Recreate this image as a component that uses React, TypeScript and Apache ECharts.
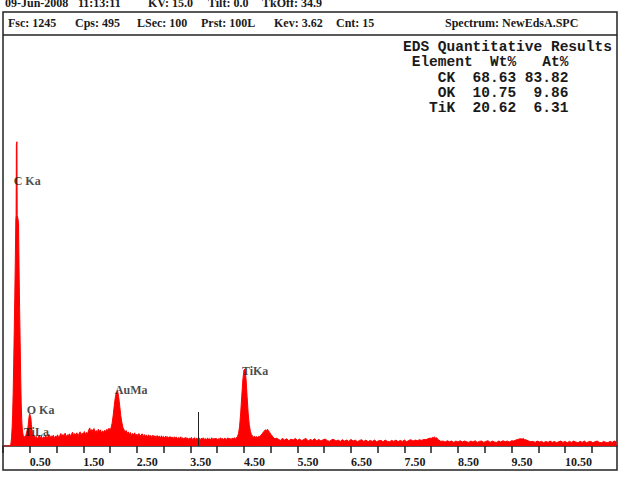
import React, { useEffect, useRef } from "react";
import * as echarts from "echarts";

// ---------- header & table texts ----------
const headerRow1 = ["09-Jun-2008", "11:13:11", "KV: 15.0", "Tilt: 0.0", "TkOff: 34.9"];
const headerRow2 = ["Fsc: 1245", "Cps: 495", "LSec: 100", "Prst: 100L", "Kev: 3.62", "Cnt: 15", "Spectrum: NewEdsA.SPC"];
const resultsTitle = "EDS Quantitative Results";
const resultsHeader = " Element  Wt%   At%";
const resultElements = ["CK", "OK", "TiK"];
const resultWt = ["68.63", "10.75", "20.62"];
const resultAt = ["83.82", "9.86", "6.31"];

// ---------- axis ----------
const xMinKeV = 0;
const xMaxKeV = 11.47;
const tickStepKeV = 0.5;
const fullScaleCounts = 1245;
const cursorKeV = 3.65;
const cursorCounts = 103;

// ---------- peak labels ----------
const peakNames = ["C Ka", "O Ka", "TiLa", "AuMa", "TiKa"];
const peakLabelKeV = [0.2, 0.444, 0.388, 2.089, 4.463];
const peakLabelCounts = [806, 109, 43, 170, 228];

// ---------- spectrum [keV, counts] ----------
const spectrumCO: [number, number][] = [
  [0.0, 0], [0.14, 0], [0.15, 10], [0.16, 25], [0.17, 55], [0.18, 95], [0.19, 160], [0.2, 250],
  [0.21, 350], [0.22, 450], [0.23, 560], [0.24, 690], [0.245, 700], [0.25, 915], [0.26, 924], [0.265, 700],
  [0.27, 700], [0.28, 690], [0.29, 675], [0.3, 540], [0.31, 420], [0.32, 320], [0.33, 215], [0.34, 130],
  [0.35, 80], [0.36, 52], [0.37, 40], [0.38, 30], [0.39, 27], [0.4, 22], [0.41, 30], [0.42, 25],
  [0.43, 34], [0.44, 40], [0.45, 46], [0.46, 50], [0.47, 62], [0.48, 78], [0.49, 92], [0.5, 97],
  [0.51, 96], [0.52, 86], [0.53, 66], [0.54, 48], [0.55, 36], [0.56, 28], [0.57, 33], [0.58, 25],
  [0.59, 31], [0.6, 23],
];
const spectrumLowBg: [number, number][] = [
  [0.62, 29], [0.64, 21], [0.66, 27], [0.68, 33], [0.7, 24], [0.72, 30], [0.74, 20], [0.76, 28],
  [0.78, 25], [0.8, 32], [0.82, 22], [0.84, 29], [0.86, 35], [0.88, 24], [0.9, 31], [0.92, 26],
  [0.94, 33], [0.96, 23], [0.98, 30], [1.0, 27], [1.02, 34], [1.04, 25], [1.06, 31], [1.08, 38],
  [1.1, 28], [1.12, 35], [1.14, 30], [1.16, 39], [1.18, 27], [1.2, 34], [1.22, 31], [1.24, 37],
  [1.26, 29], [1.28, 36], [1.3, 42], [1.32, 31], [1.34, 38], [1.36, 33], [1.38, 40], [1.4, 30],
  [1.42, 37], [1.44, 43], [1.46, 34], [1.48, 39], [1.5, 36], [1.52, 44], [1.54, 35], [1.56, 41],
  [1.58, 37], [1.6, 48], [1.62, 55], [1.64, 42], [1.66, 50], [1.68, 45], [1.7, 53], [1.72, 40],
  [1.74, 47], [1.76, 38], [1.78, 51], [1.8, 44], [1.82, 49], [1.84, 39], [1.86, 46], [1.88, 41],
  [1.9, 48], [1.92, 43], [1.94, 51], [1.96, 46], [1.98, 54],
];
const spectrumAuMa: [number, number][] = [
  [2.0, 48], [2.02, 56], [2.04, 70], [2.06, 95], [2.08, 125], [2.1, 150], [2.12, 162], [2.14, 168],
  [2.16, 150], [2.18, 122], [2.2, 92], [2.22, 72], [2.24, 56], [2.26, 50], [2.28, 42], [2.3, 47],
  [2.32, 38], [2.34, 43],
];
const spectrumMidBg: [number, number][] = [
  [2.36, 35], [2.38, 41], [2.4, 32], [2.42, 38], [2.44, 34], [2.46, 40], [2.48, 30], [2.5, 36],
  [2.52, 31], [2.54, 38], [2.56, 29], [2.58, 34], [2.6, 37], [2.62, 28], [2.64, 35], [2.66, 30],
  [2.68, 33], [2.7, 27], [2.72, 34], [2.74, 29], [2.76, 32], [2.78, 26], [2.8, 33], [2.82, 28],
  [2.84, 31], [2.86, 25], [2.88, 32], [2.9, 27], [2.92, 30], [2.94, 24], [2.96, 31], [2.98, 26],
  [3.0, 29], [3.02, 24], [3.04, 30], [3.06, 26], [3.08, 28], [3.1, 23], [3.12, 29], [3.14, 25],
  [3.16, 27], [3.18, 22], [3.2, 28], [3.22, 24], [3.24, 27], [3.26, 21], [3.28, 26], [3.3, 23],
  [3.32, 28], [3.34, 22], [3.36, 25], [3.38, 20], [3.4, 26], [3.42, 23], [3.44, 25], [3.46, 20],
  [3.48, 24], [3.5, 22], [3.52, 26], [3.54, 20], [3.56, 23], [3.58, 25], [3.6, 19], [3.62, 24],
  [3.64, 21], [3.66, 25], [3.68, 19], [3.7, 23], [3.72, 21], [3.74, 25], [3.76, 20], [3.78, 23],
  [3.8, 19], [3.82, 24], [3.84, 21], [3.86, 22], [3.88, 19], [3.9, 25], [3.92, 20], [3.94, 23],
  [3.96, 21], [3.98, 24], [4.0, 19], [4.02, 22], [4.04, 20], [4.06, 25], [4.08, 21], [4.1, 23],
  [4.12, 19], [4.14, 24], [4.16, 22], [4.18, 20], [4.2, 25], [4.22, 21], [4.24, 23], [4.26, 20],
  [4.28, 24], [4.3, 22], [4.32, 25], [4.34, 22],
];
const spectrumTi: [number, number][] = [
  [4.36, 25], [4.38, 29], [4.4, 38], [4.42, 60], [4.44, 100], [4.46, 150], [4.48, 200], [4.5, 230],
  [4.52, 234], [4.54, 205], [4.56, 150], [4.58, 100], [4.6, 65], [4.62, 45], [4.64, 35], [4.66, 31],
  [4.68, 26], [4.7, 30], [4.72, 25], [4.74, 29], [4.76, 24], [4.78, 30], [4.8, 27], [4.82, 34],
  [4.84, 36], [4.86, 42], [4.88, 45], [4.9, 49], [4.92, 47], [4.94, 51], [4.96, 46], [4.98, 42],
  [5.0, 36], [5.02, 33], [5.04, 27], [5.06, 25], [5.08, 21], [5.1, 24],
];
const spectrumHighBg: [number, number][] = [
  [5.14, 21], [5.18, 17], [5.22, 23], [5.26, 18], [5.3, 22], [5.34, 16], [5.38, 21], [5.42, 18],
  [5.46, 23], [5.5, 17], [5.54, 21], [5.58, 16], [5.62, 20], [5.66, 23], [5.7, 15], [5.74, 20],
  [5.78, 17], [5.82, 22], [5.86, 16], [5.9, 20], [5.94, 15], [5.98, 19], [6.02, 21], [6.06, 16],
  [6.1, 14], [6.14, 19], [6.18, 20], [6.22, 15], [6.26, 18], [6.3, 14], [6.34, 19], [6.38, 15],
  [6.42, 18], [6.46, 14], [6.5, 20], [6.54, 15], [6.58, 18], [6.62, 13], [6.66, 17], [6.7, 19],
  [6.74, 14], [6.78, 18], [6.82, 13], [6.86, 17], [6.9, 14], [6.94, 18], [6.98, 13], [7.02, 16],
  [7.06, 17], [7.1, 13], [7.14, 18], [7.18, 14], [7.22, 13], [7.26, 17], [7.3, 14], [7.34, 18],
  [7.38, 13], [7.42, 17], [7.46, 14], [7.5, 18], [7.54, 13], [7.58, 17], [7.62, 19], [7.66, 15],
  [7.7, 18], [7.74, 16], [7.78, 19], [7.82, 17], [7.86, 20],
  [7.9, 19], [7.94, 22], [7.98, 24], [8.0, 23], [8.02, 26], [8.04, 25], [8.06, 27], [8.08, 24],
  [8.1, 25], [8.12, 21], [8.14, 18], [8.18, 14],
  [8.22, 15], [8.26, 12], [8.3, 16], [8.34, 13], [8.38, 15], [8.42, 11], [8.46, 15], [8.5, 12],
  [8.54, 16], [8.58, 12], [8.62, 15], [8.66, 13], [8.7, 11], [8.74, 15], [8.78, 12], [8.82, 16],
  [8.86, 11], [8.9, 14], [8.94, 15], [8.98, 11], [9.02, 14], [9.06, 16], [9.1, 11], [9.14, 15],
  [9.18, 12], [9.22, 11], [9.26, 15], [9.3, 12], [9.34, 16], [9.38, 13], [9.42, 15], [9.46, 12],
  [9.5, 16], [9.54, 15], [9.58, 18],
  [9.62, 20], [9.66, 22], [9.7, 21], [9.72, 23], [9.74, 20], [9.78, 18], [9.82, 15], [9.86, 13],
  [9.9, 14], [9.94, 11], [9.98, 15], [10.02, 12], [10.06, 14], [10.1, 10], [10.14, 14], [10.18, 11],
  [10.22, 15], [10.26, 11], [10.3, 14], [10.34, 10], [10.38, 13], [10.42, 15], [10.46, 11], [10.5, 14],
  [10.54, 10], [10.58, 14], [10.62, 11], [10.66, 15], [10.7, 12], [10.74, 10], [10.78, 14], [10.82, 11],
  [10.86, 15], [10.9, 10], [10.94, 13], [10.98, 14], [11.02, 10], [11.06, 13], [11.1, 15], [11.14, 11],
  [11.18, 10], [11.22, 14], [11.26, 11], [11.3, 10], [11.34, 14], [11.38, 11], [11.42, 15], [11.46, 12],
];

// ---------- layout ----------
const row1X = [5, 78, 148, 208, 262];
const row2X = [8, 75, 137, 201, 274, 336, 445];
const SERIF_BOLD = 'bold 12px "Liberation Serif", "Times New Roman", serif';
const MONO = 'bold 14.5px "Liberation Mono", "Courier New", monospace';
const INK = "#1a1a1a";

export default function App() {
  const ref = useRef<HTMLDivElement>(null);

  useEffect(() => {
    document.body.style.margin = "0";
    if (!ref.current) return;
    const chart = echarts.init(ref.current, undefined, { renderer: "svg" });

    const spectrum = [
      ...spectrumCO,
      ...spectrumLowBg,
      ...spectrumAuMa,
      ...spectrumMidBg,
      ...spectrumTi,
      ...spectrumHighBg,
    ];

    const txt = (text: string, x: number, y: number, font: string) => ({
      type: "text",
      x,
      y,
      silent: true,
      style: {
        text,
        fill: INK,
        font,
        align: "left",
        verticalAlign: "middle",
        textAlign: "left",
        textVerticalAlign: "middle",
      },
    });

    const graphics: any[] = [];
    headerRow1.forEach((t, i) => graphics.push(txt(t, row1X[i], 3, SERIF_BOLD)));
    headerRow2.forEach((t, i) => graphics.push(txt(t, row2X[i], 23, SERIF_BOLD)));
    const tableLines = [
      resultsTitle,
      resultsHeader,
      ...resultElements.map(
        (el, i) => el.padStart(6, " ") + "  " + resultWt[i].padStart(5, " ") + " " + resultAt[i].padStart(5, " ")
      ),
    ];
    tableLines.forEach((line, i) => graphics.push(txt(line, 403, 47 + i * 15.3, MONO)));
    graphics.push({
      type: "rect",
      shape: { x: 3, y: 12, width: 614, height: 458 },
      style: { fill: "none", stroke: "#222", lineWidth: 1.5 },
      silent: true,
    });
    graphics.push({
      type: "line",
      shape: { x1: 3, y1: 35, x2: 617, y2: 35 },
      style: { stroke: "#222", lineWidth: 1.5 },
      silent: true,
    });

    chart.setOption({
      animation: false,
      backgroundColor: "#ffffff",
      grid: { left: 3, right: 3, top: 36, bottom: 48, containLabel: false },
      xAxis: {
        type: "value",
        min: xMinKeV,
        max: xMaxKeV,
        interval: tickStepKeV,
        axisLine: { show: true, lineStyle: { color: "#222", width: 1.5 } },
        axisTick: { show: true, length: 7, lineStyle: { color: "#222", width: 1.5 } },
        splitLine: { show: false },
        axisLabel: {
          show: true,
          margin: 10,
          align: "left",
          showMaxLabel: false,
          fontFamily: '"Liberation Serif", "Times New Roman", serif',
          fontWeight: "bold",
          fontSize: 12,
          color: INK,
          formatter: (v: number) => (Math.abs((v % 1) - 0.5) < 1e-6 ? v.toFixed(2) : ""),
        },
      },
      yAxis: { type: "value", min: 0, max: fullScaleCounts, show: false },
      series: [
        {
          type: "line",
          data: spectrum,
          showSymbol: false,
          symbol: "none",
          lineStyle: { color: "#ff0000", width: 1 },
          areaStyle: { color: "#ff0000", opacity: 1 },
          itemStyle: { color: "#ff0000" },
          markLine: {
            silent: true,
            symbol: "none",
            label: { show: false },
            lineStyle: { color: "#222", width: 1, type: "solid" },
            data: [[{ coord: [cursorKeV, 0] }, { coord: [cursorKeV, cursorCounts] }]],
          },
          z: 2,
        },
        {
          type: "scatter",
          symbolSize: 0,
          z: 5,
          data: peakNames.map((n, i) => ({ name: n, value: [peakLabelKeV[i], peakLabelCounts[i]] })),
          label: {
            show: true,
            position: "right",
            distance: 0,
            formatter: (p: any) => p.name,
            fontFamily: '"Liberation Serif", "Times New Roman", serif',
            fontWeight: "bold",
            fontSize: 12,
            color: INK,
          },
        },
      ],
      graphic: graphics,
    });

    return () => chart.dispose();
  }, []);

  return <div ref={ref} style={{ width: 620, height: 494 }} />;
}
